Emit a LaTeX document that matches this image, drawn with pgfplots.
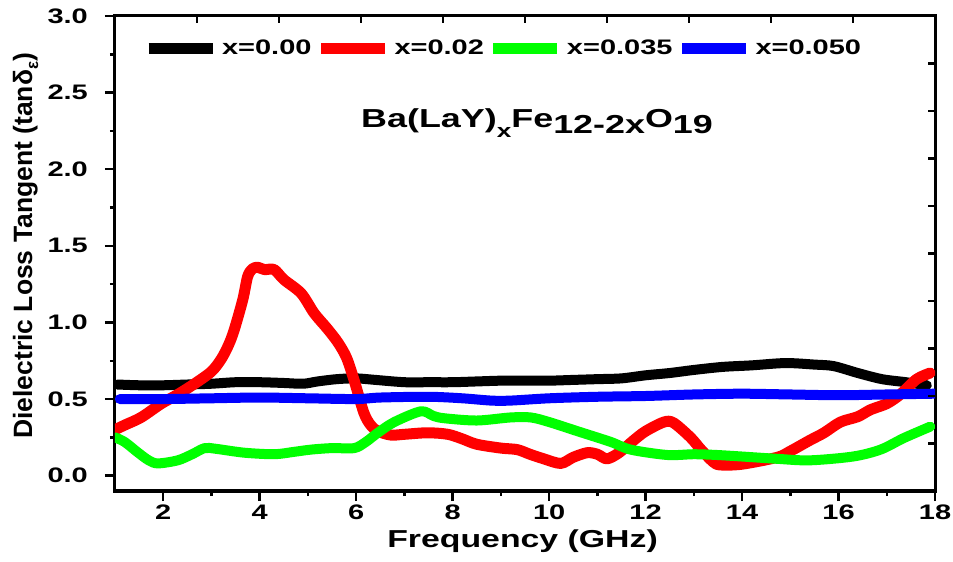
\documentclass[border=0pt]{standalone}
\usepackage{fontspec}
\setmainfont{Liberation Sans}
\newfontfamily\wide{Liberation Sans}[FakeStretch=1.38]
\usepackage{pgfplots}
\pgfplotsset{compat=1.18}
\newcommand\tickfont{\wide\bfseries\fontsize{21bp}{21bp}\selectfont}
\definecolor{cgreen}{RGB}{0,255,0}
\definecolor{cred}{RGB}{255,0,0}
\definecolor{cblue}{RGB}{0,0,255}
\begin{document}
\begin{tikzpicture}
\begin{axis}[
  width=820bp, height=475bp, scale only axis,
  clip mode=individual,
  xmin=1, xmax=18, ymin=-0.1, ymax=3.0,
  xtick={2,4,6,8,10,12,14,16,18},
  minor xtick={3,5,7,9,11,13,15,17},
  ytick={0,0.5,1,1.5,2,2.5,3},
  minor ytick={0.25,0.75,1.25,1.75,2.25,2.75},
  tick pos=left, tick align=outside,
  major tick length=10bp, minor tick length=5bp,
  axis line style={line width=3bp},
  tick style={line width=2.5bp, black},
  xticklabel={\tickfont\pgfmathprintnumber[assume math mode=true]{\tick}},
  yticklabel={\tickfont\pgfmathprintnumber[assume math mode=true, fixed, fixed zerofill, precision=1]{\tick}},
  xticklabel style={inner sep=0pt, yshift=-4bp},
  yticklabel style={inner sep=0pt, xshift=-17bp},
  legend columns=4,
  legend style={draw=none, fill=none, at={(rel axis cs:0.034,0.9326)}, anchor=west,
    font=\tickfont, nodes={inner sep=0pt}, column sep=4bp, inner sep=0pt},
  legend image code/.code={\draw[#1, line width=11bp, line cap=butt] (0bp,0bp) -- (64bp,0bp);},
  every axis plot/.append style={line join=round, line cap=round},
]
\addplot[black, line width=10bp, smooth] coordinates {
(1.05,0.595) (1.5,0.59) (2.0,0.59) (2.5,0.595) (3.0,0.60) (3.5,0.61) (4.0,0.61) (4.5,0.605) (4.9,0.60) (5.2,0.615) (5.6,0.63) (6.0,0.635) (6.4,0.625) (7.0,0.61) (7.5,0.61) (8.0,0.61) (8.5,0.615) (9.0,0.62) (9.5,0.62) (10.0,0.62) (10.5,0.625) (11.0,0.63) (11.5,0.635) (12.0,0.655) (12.5,0.67) (13.0,0.69) (13.6,0.71) (14.2,0.72) (14.9,0.735) (15.5,0.725) (15.9,0.715) (16.4,0.67) (16.9,0.63) (17.4,0.61) (17.83,0.59)
};
\addlegendentry{x=0.00}
\addplot[cred, line width=11bp, smooth] coordinates {
(1.0,0.30) (1.2,0.33) (1.54,0.38) (1.96,0.47) (2.3,0.53) (2.65,0.60) (3.0,0.68) (3.2,0.76) (3.35,0.85) (3.47,0.95) (3.65,1.15) (3.75,1.30) (3.85,1.35) (3.96,1.36) (4.1,1.345) (4.3,1.345) (4.5,1.28) (4.86,1.19) (5.13,1.06) (5.4,0.96) (5.62,0.87) (5.8,0.77) (5.96,0.62) (6.16,0.41) (6.3,0.33) (6.45,0.29) (6.72,0.265) (7.0,0.27) (7.48,0.28) (7.9,0.27) (8.2,0.24) (8.5,0.205) (9.0,0.18) (9.34,0.17) (9.6,0.14) (9.89,0.11) (10.24,0.08) (10.5,0.12) (10.79,0.15) (11.0,0.14) (11.2,0.11) (11.45,0.15) (11.75,0.23) (12.0,0.29) (12.38,0.35) (12.58,0.345) (12.93,0.25) (13.15,0.17) (13.4,0.09) (13.55,0.07) (14.0,0.075) (14.73,0.12) (15.0,0.16) (15.4,0.23) (15.7,0.28) (16.04,0.35) (16.4,0.385) (16.66,0.43) (17.0,0.47) (17.28,0.53) (17.62,0.63) (17.9,0.67)
};
\addlegendentry{x=0.02}
\addplot[cgreen, line width=10bp, smooth] coordinates {
(1.0,0.25) (1.2,0.22) (1.48,0.15) (1.7,0.10) (1.89,0.08) (2.3,0.10) (2.6,0.14) (2.86,0.18) (3.1,0.175) (3.68,0.15) (4.3,0.14) (4.7,0.155) (5.06,0.17) (5.5,0.18) (5.96,0.18) (6.2,0.22) (6.45,0.28) (6.79,0.35) (7.34,0.42) (7.6,0.39) (7.82,0.375) (8.5,0.36) (9.2,0.38) (9.62,0.38) (10.0,0.35) (10.59,0.29) (11.28,0.22) (11.69,0.17) (12.45,0.135) (13.0,0.14) (13.48,0.135) (14.0,0.125) (14.73,0.11) (15.4,0.10) (16.3,0.125) (16.87,0.17) (17.35,0.245) (17.9,0.32)
};
\addlegendentry{x=0.035}
\addplot[cblue, line width=10bp, smooth] coordinates {
(1.1,0.50) (2,0.50) (3,0.505) (4,0.51) (5,0.505) (6,0.50) (6.5,0.51) (7.5,0.515) (8.2,0.505) (8.8,0.49) (9.2,0.49) (10,0.505) (11,0.515) (12,0.52) (13,0.53) (14,0.535) (15,0.53) (16,0.525) (17,0.53) (18,0.535)
};
\addlegendentry{x=0.050}
\node[anchor=base west, font=\wide\bfseries\fontsize{26bp}{26bp}\selectfont] at (rel axis cs:0.296,0.766)
  {Ba(LaY)\raisebox{-10bp}{\fontsize{19bp}{19bp}\selectfont x}Fe\raisebox{-6bp}{12-2x}O\raisebox{-6bp}{19}};
\node[anchor=base, font=\wide\bfseries\fontsize{24.5bp}{24.5bp}\selectfont] at (rel axis cs:0.497,-0.118) {Frequency (GHz)};
\node[anchor=base, rotate=90, font=\bfseries\fontsize{26.5bp}{26.5bp}\selectfont] at (rel axis cs:-0.1012,0.516) {Dielectric Loss Tangent (tanδ\raisebox{-6bp}{\fontsize{17bp}{17bp}\selectfont ε})};
\end{axis}
\begin{axis}[
  width=820bp, height=475bp, scale only axis,
  xmin=1, xmax=18, ymin=-0.1, ymax=3.0,
  axis line style={draw=none},
  xtick={2.7,4.4,6.1,7.8,9.5,11.2,12.9,14.6,16.3},
  ytick={0.21,0.52,0.83,1.14,1.45,1.76,2.07,2.38,2.69},
  xtick pos=right, ytick pos=right, tick align=inside,
  major tick length=7bp,
  xticklabels={}, yticklabels={},
  tick style={line width=2.5bp, black},
]
\end{axis}
\pgfresetboundingbox
\path[use as bounding box] (-115bp,-71bp) rectangle (838bp,491bp);
\end{tikzpicture}
\end{document}
